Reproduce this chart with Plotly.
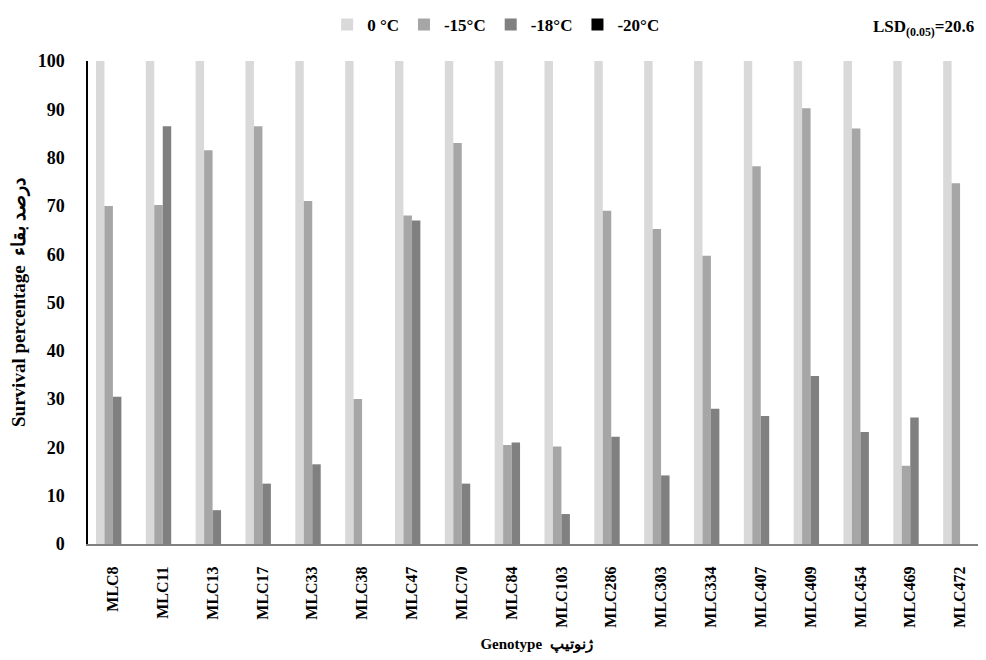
import plotly.graph_objects as go

genotypes = ["MLC8", "MLC11", "MLC13", "MLC17", "MLC33", "MLC38", "MLC47", "MLC70", "MLC84",
             "MLC103", "MLC286", "MLC303", "MLC334", "MLC407", "MLC409", "MLC454", "MLC469", "MLC472"]
s0 = [100] * 18
s15 = [70, 70.2, 81.5, 86.5, 71, 30, 68, 83, 20.5, 20.2, 69, 65.2, 59.7, 78.2, 90.2, 86, 16.2, 74.7]
s18 = [30.5, 86.5, 7, 12.5, 16.5, 0, 67, 12.5, 21, 6.2, 22.2, 14.2, 28, 26.5, 34.8, 23.2, 26.2, 0]
s20 = [0] * 18
names = ["0 °C", "-15°C", "-18°C", "-20°C"]
colors = ["#d9d9d9", "#a6a6a6", "#808080", "#000000"]

font = "Liberation Serif"
fig = go.Figure()
for name, vals, c in zip(names, [s0, s15, s18, s20], colors):
    fig.add_trace(go.Bar(x=genotypes, y=vals, name=name, marker_color=c, marker_line_width=0))

fig.update_layout(
    width=978, height=652,
    barmode="group", bargap=0.32, bargroupgap=0,
    plot_bgcolor="white", paper_bgcolor="white",
    margin=dict(l=80, r=1, t=53, b=116, autoexpand=False),
    font=dict(family=font, size=16, color="black"),
    showlegend=True,
    legend=dict(orientation="h", x=0.455, xanchor="center", yref="container", y=0.974, yanchor="middle",
                font=dict(family=font, size=17, color="black", weight="bold"),
                itemwidth=30, traceorder="normal", tracegroupgap=0),
    annotations=[dict(text="<b>LSD<sub>(0.05)</sub>=20.6</b>", xref="paper", yref="paper",
                      x=0.99, y=1.068, xanchor="right", yanchor="middle", showarrow=False,
                      font=dict(family=font, size=17, color="black"))],
)
fig.update_yaxes(range=[0, 100], dtick=10, showgrid=False, showline=True, linecolor="black",
                 linewidth=1.5, ticks="", ticklabelstandoff=18, automargin=False,
                 tickfont=dict(family=font, size=18, color="black", weight="bold"),
                 title=dict(text="<b>Survival percentage  درصد بقاء</b>", standoff=16,
                            font=dict(family=font, size=19, color="black")))
fig.update_xaxes(showgrid=False, showline=True, linecolor="#808080", linewidth=2, ticks="",
                 tickangle=-90, ticklabelstandoff=14, automargin=False,
                 tickfont=dict(family=font, size=16, color="black", weight="bold"),
                 title=dict(text="<b>Genotype  ژنوتیپ</b>", standoff=12,
                            font=dict(family=font, size=15, color="black")))

fig.write_html("out.html")
